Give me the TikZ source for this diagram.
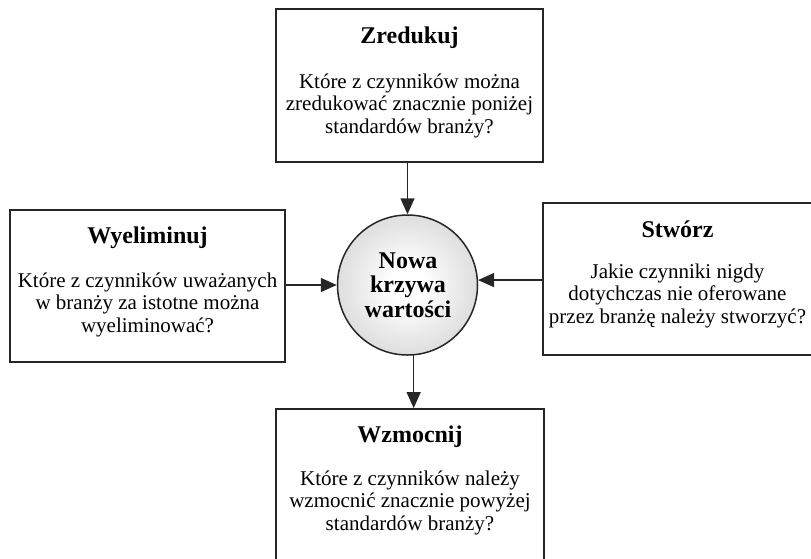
\documentclass[tikz,border=0pt]{standalone}
\usepackage{fontspec}
\setmainfont{Liberation Serif}
\usetikzlibrary{arrows.meta}
\pgfdeclareradialshading{ballshade}{\pgfpoint{0bp}{0bp}}{color(0bp)=(white); color(6bp)=(white); color(50bp)=(black!30)}
\begin{document}
\begin{tikzpicture}[x=1pt,y=-1pt,
  box/.style={draw=black!85, line width=1.8pt, rectangle, inner sep=0pt},
  ttl/.style={font=\fontsize{24}{25}\selectfont\bfseries, anchor=base, inner sep=0pt},
  bodytxt/.style={font=\fontsize{21}{22.5}\selectfont, align=center, anchor=base, inner sep=0pt},
  ctext/.style={font=\fontsize{24}{24.5}\selectfont\bfseries, align=center, anchor=base, inner sep=0pt},
  arr/.style={line width=1.5pt, draw=black!85, -{Triangle[length=16pt,width=14pt]}}
]
\useasboundingbox (0,0) rectangle (811,558);

% boxes
\node[box, minimum width=267pt, minimum height=153pt] (top) at (409.5,85.5) {};
\node[box, minimum width=275pt, minimum height=152pt] (left) at (147.5,286) {};
\node[box, minimum width=269pt, minimum height=152pt] (right) at (677.5,279) {};
\node[box, minimum width=268pt, minimum height=153pt] (bot) at (410,485.5) {};

% circle
\node[circle, draw=black!85, line width=1.5pt, minimum size=140pt, inner sep=0pt, shading=ballshade] (circ) at (407.5,285) {};
\node[ctext] (circT) at (408,317) {Nowa\\krzywa\\wartości};

% texts (base anchor = baseline of the last line)
\node[ttl] (topT) at (409.5,43) {Zredukuj};
\node[bodytxt] (topB) at (409.5,133) {Które z czynników można\\zredukować znacznie poniżej\\standardów branży?};

\node[ttl] (leftT) at (147.5,243) {Wyeliminuj};
\node[bodytxt] (leftB) at (147.5,332) {Które z czynników uważanych\\w branży za istotne można\\wyeliminować?};

\node[ttl] (rightT) at (677.5,237) {Stwórz};
\node[bodytxt] (rightB) at (677.5,323) {Jakie czynniki nigdy\\dotychczas nie oferowane\\przez branżę należy stworzyć?};

\node[ttl] (botT) at (410,442) {Wzmocnij};
\node[bodytxt] (botB) at (410,530) {Które z czynników należy\\wzmocnić znacznie powyżej\\standardów branży?};

% arrows
\draw[arr] (circ.north |- top.south) -- (circ.north);
\draw[arr] (left.east |- circ.west) -- (circ.west);
\draw[arr] (right.west |- circ.4.1) -- (circ.4.1);
\draw[arr] (circ.-85.5) -- (circ.-85.5 |- bot.north);
\end{tikzpicture}
\end{document}
